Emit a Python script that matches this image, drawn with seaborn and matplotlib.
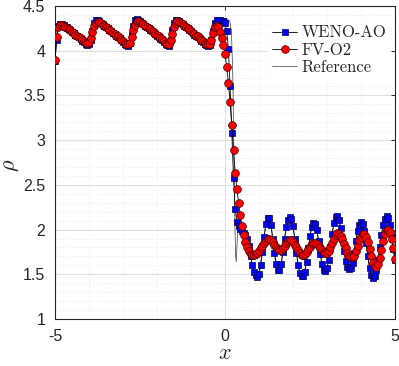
import numpy as np
import matplotlib
matplotlib.use("Agg")
import matplotlib.pyplot as plt
from matplotlib.ticker import MultipleLocator
import seaborn as sns

# -- Data ----------------------------------------------------------------------

# cell centres for both schemes, dx = 0.05
x_cells = np.round(np.arange(-5.0, 5.0001, 0.05), 2)

rho_weno = [
    3.89, 4.12, 4.28, 4.30, 4.30, 4.29, 4.27, 4.26, 4.24, 4.23,
    4.21, 4.20, 4.18, 4.16, 4.15, 4.13, 4.11, 4.10, 4.08, 4.06,
    4.07, 4.12, 4.22, 4.31, 4.34, 4.34, 4.33, 4.31, 4.30, 4.28,
    4.27, 4.25, 4.23, 4.22, 4.20, 4.19, 4.17, 4.15, 4.14, 4.12,
    4.10, 4.08, 4.06, 4.05, 4.09, 4.18, 4.28, 4.34, 4.35, 4.34,
    4.33, 4.31, 4.30, 4.28, 4.27, 4.25, 4.23, 4.22, 4.20, 4.19,
    4.17, 4.15, 4.13, 4.12, 4.10, 4.08, 4.06, 4.05, 4.12, 4.23,
    4.31, 4.34, 4.34, 4.33, 4.31, 4.30, 4.28, 4.27, 4.25, 4.23,
    4.22, 4.20, 4.18, 4.17, 4.15, 4.13, 4.11, 4.10, 4.08, 4.06,
    4.05, 4.06, 4.12, 4.22, 4.31, 4.34, 4.34, 4.34, 4.33, 4.33,
    4.31, 4.22, 4.02, 3.60, 3.08, 2.58, 2.23, 2.08, 2.04, 2.01,
    1.98, 1.96, 1.94, 1.90, 1.82, 1.70, 1.60, 1.53, 1.49, 1.47,
    1.50, 1.60, 1.75, 1.92, 2.06, 2.13, 2.13, 2.05, 1.90, 1.74,
    1.61, 1.55, 1.55, 1.62, 1.75, 1.90, 2.03, 2.11, 2.14, 2.12,
    2.04, 1.90, 1.74, 1.60, 1.51, 1.48, 1.48, 1.53, 1.64, 1.79,
    1.93, 2.03, 2.07, 2.06, 1.99, 1.87, 1.73, 1.61, 1.55, 1.54,
    1.57, 1.66, 1.80, 1.95, 2.07, 2.14, 2.15, 2.11, 2.02, 1.89,
    1.76, 1.65, 1.58, 1.56, 1.57, 1.63, 1.74, 1.87, 1.98, 2.05,
    2.08, 2.06, 1.98, 1.85, 1.70, 1.57, 1.49, 1.46, 1.48, 1.55,
    1.66, 1.80, 1.94, 2.05, 2.12, 2.15, 2.13, 2.05, 1.92, 1.78,
    1.66,
]

rho_fv = [
    3.90, 4.15, 4.27, 4.29, 4.29, 4.28, 4.27, 4.25, 4.24, 4.23,
    4.21, 4.20, 4.18, 4.17, 4.15, 4.14, 4.12, 4.11, 4.10, 4.09,
    4.10, 4.14, 4.21, 4.28, 4.31, 4.32, 4.32, 4.31, 4.29, 4.28,
    4.26, 4.25, 4.23, 4.22, 4.20, 4.19, 4.17, 4.16, 4.14, 4.12,
    4.11, 4.09, 4.08, 4.07, 4.09, 4.15, 4.23, 4.29, 4.32, 4.33,
    4.32, 4.31, 4.30, 4.28, 4.27, 4.25, 4.24, 4.22, 4.21, 4.19,
    4.18, 4.16, 4.14, 4.13, 4.11, 4.09, 4.08, 4.08, 4.12, 4.19,
    4.26, 4.31, 4.33, 4.32, 4.31, 4.30, 4.28, 4.27, 4.25, 4.24,
    4.22, 4.20, 4.19, 4.17, 4.16, 4.14, 4.12, 4.11, 4.09, 4.08,
    4.07, 4.08, 4.12, 4.20, 4.26, 4.28, 4.26, 4.21, 4.14, 4.06,
    3.96, 3.82, 3.64, 3.43, 3.17, 2.89, 2.63, 2.45, 2.30, 2.16,
    2.04, 1.94, 1.86, 1.80, 1.76, 1.73, 1.72, 1.72, 1.73, 1.74,
    1.76, 1.79, 1.82, 1.85, 1.87, 1.89, 1.89, 1.88, 1.86, 1.83,
    1.80, 1.78, 1.77, 1.77, 1.79, 1.82, 1.85, 1.87, 1.88, 1.88,
    1.86, 1.83, 1.80, 1.77, 1.74, 1.72, 1.72, 1.73, 1.75, 1.78,
    1.81, 1.84, 1.85, 1.85, 1.84, 1.82, 1.79, 1.77, 1.75, 1.74,
    1.74, 1.76, 1.80, 1.85, 1.90, 1.94, 1.96, 1.95, 1.93, 1.89,
    1.84, 1.79, 1.74, 1.71, 1.69, 1.69, 1.71, 1.76, 1.82, 1.88,
    1.92, 1.95, 1.95, 1.92, 1.86, 1.78, 1.70, 1.63, 1.59, 1.58,
    1.61, 1.68, 1.77, 1.87, 1.95, 1.99, 2.00, 1.97, 1.90, 1.79,
    1.67,
]

# reference solution (fine grid), vertices of the thin line
x_ref = [
    -5.00, -4.97, -4.93, -4.88, -4.05, -3.99, -3.87, -3.79, -3.72,
    -2.88, -2.82, -2.70, -2.62, -2.55, -1.72, -1.66, -1.54, -1.46, -1.39,
    -0.55, -0.49, -0.37, -0.28, -0.10, 0.05, 0.14, 0.19, 0.23, 0.26, 0.29,
    0.31, 0.33, 0.35, 0.38, 0.45, 0.55, 0.65, 0.72, 0.80, 0.88, 0.95,
    1.03, 1.11, 1.19, 1.27, 1.35, 1.43, 1.51, 1.58, 1.66, 1.74, 1.82,
    1.92, 2.00, 2.08, 2.16, 2.24, 2.30, 2.38, 2.46, 2.54, 2.65, 2.73,
    2.81, 2.89, 2.98, 3.06, 3.14, 3.22, 3.32, 3.40, 3.48, 3.56, 3.64,
    3.72, 3.80, 3.88, 3.96, 4.06, 4.14, 4.22, 4.30, 4.36, 4.44, 4.52,
    4.60, 4.68, 4.77, 4.85, 4.93, 5.00,
]
rho_ref = [
    3.88, 4.20, 4.30, 4.31, 4.05, 4.08, 4.30, 4.35, 4.34,
    4.05, 4.08, 4.30, 4.35, 4.34, 4.05, 4.08, 4.30, 4.35, 4.34,
    4.05, 4.08, 4.30, 4.35, 4.36, 4.36, 4.33, 4.22, 3.70, 2.90, 2.10,
    1.72, 1.64, 1.80, 2.06, 2.03, 1.99, 1.93, 1.80, 1.60, 1.49, 1.47,
    1.58, 1.80, 2.03, 2.14, 2.07, 1.84, 1.62, 1.54, 1.62, 1.85, 2.06,
    2.14, 2.05, 1.81, 1.59, 1.48, 1.48, 1.60, 1.82, 2.01, 2.07, 1.94,
    1.71, 1.56, 1.54, 1.67, 1.92, 2.10, 2.15, 2.03, 1.80, 1.63, 1.56,
    1.58, 1.74, 1.94, 2.06, 2.07, 1.89, 1.65, 1.49, 1.46, 1.54, 1.72,
    1.94, 2.10, 2.15, 2.05, 1.83, 1.64,
]

x_ticks = [-5, 0, 5]
y_ticks = [1, 1.5, 2, 2.5, 3, 3.5, 4, 4.5]

# -- Style ---------------------------------------------------------------------

sns.set_style("white")
plt.rcParams["font.family"] = ["Liberation Sans", "DejaVu Sans"]
plt.rcParams["mathtext.fontset"] = "cm"
plt.rcParams["axes.unicode_minus"] = False

AX_COL = "#262626"

fig = plt.figure(figsize=(3.99, 3.66), dpi=100)
ax = fig.add_axes([55 / 399, 1 - 319 / 366, 340 / 399, 313 / 366])

sns.lineplot(x=x_ref, y=rho_ref, ax=ax, sort=False, estimator=None,
             color="#3a3a3a", lw=0.5, label="Reference", zorder=2)
sns.lineplot(x=x_cells, y=rho_weno, ax=ax, sort=False, estimator=None,
             color="k", lw=0.6, marker="s", markersize=4.0,
             markerfacecolor="#0000ff", markeredgecolor="#00005a",
             markeredgewidth=0.5, label="WENO-AO", zorder=3)
sns.lineplot(x=x_cells, y=rho_fv, ax=ax, sort=False, estimator=None,
             color="k", lw=0.6, marker="o", markersize=5.6,
             markerfacecolor="#ff0000", markeredgecolor="#400000",
             markeredgewidth=0.5, label="FV-O2", zorder=4)

ax.set_xlim(-5, 5)
ax.set_ylim(1, 4.5)
ax.set_xticks(x_ticks)
ax.set_yticks(y_ticks)
ax.set_yticklabels([f"{v:g}" for v in y_ticks])
ax.xaxis.set_minor_locator(MultipleLocator(1))
ax.yaxis.set_minor_locator(MultipleLocator(0.1))

ax.grid(which="major", color="#e0e0e0", lw=0.8, ls="-", zorder=0)
ax.grid(which="minor", color="#dadada", lw=0.5, ls=(0, (1, 2.5)), zorder=0)
ax.set_axisbelow(True)

for sp in ax.spines.values():
    sp.set_visible(True)
    sp.set_color(AX_COL)
    sp.set_linewidth(0.8)

ax.tick_params(which="major", direction="in", length=3, width=0.7,
               color=AX_COL, labelcolor=AX_COL, labelsize=11.5, pad=7,
               top=True, right=True)
ax.tick_params(which="minor", length=0, top=True, right=True)

ax.set_xlabel(r"$x$", fontsize=16, color=AX_COL)
ax.set_ylabel(r"$\rho$", fontsize=16, color=AX_COL)
ax.xaxis.set_label_coords(0.5, -0.078)
ax.yaxis.set_label_coords(-0.10, 0.49)

handles, labels = ax.get_legend_handles_labels()
order = [labels.index(n) for n in ["WENO-AO", "FV-O2", "Reference"]]
leg = ax.legend([handles[i] for i in order], [labels[i] for i in order],
                loc="upper left",
                bbox_to_anchor=((268 - 55) / 340, (319 - 21) / 313),
                borderaxespad=0, borderpad=0.25, labelspacing=0.12,
                handlelength=1.5, handletextpad=0.25,
                frameon=True, fancybox=False, framealpha=1,
                edgecolor="white", facecolor="white",
                prop={"family": "cmr10", "size": 12})

fig.savefig("out.png", dpi=100)
